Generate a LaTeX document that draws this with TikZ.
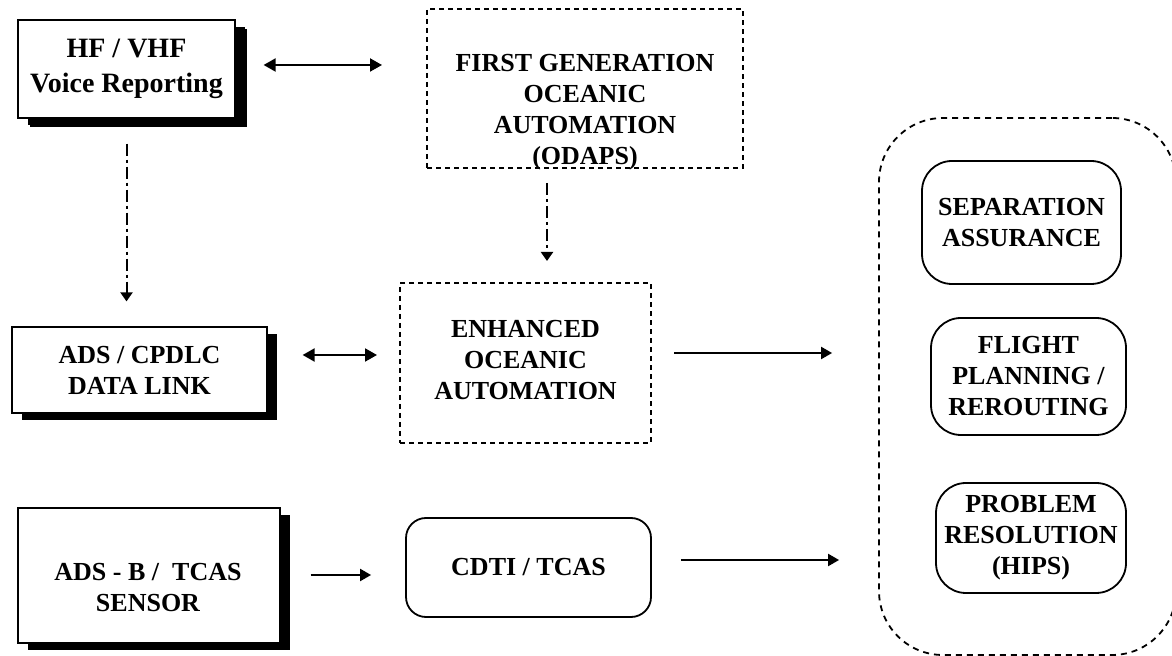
\documentclass[tikz,border=0pt]{standalone}
\usepackage{fontspec}
\setmainfont{Liberation Serif}
\usetikzlibrary{positioning,arrows.meta,shadows,calc}

\begin{document}
\begin{tikzpicture}[
    x=0.5pt, y=-0.5pt,
    txt/.style={font=\fontsize{13}{15.5}\selectfont\bfseries, align=center},
    bigtxt/.style={font=\fontsize{14}{17.5}\selectfont\bfseries, align=center},
    shadowbox/.style={rectangle, draw, line width=0.6pt, fill=white, txt, drop shadow={shadow xshift=5pt, shadow yshift=-3.5pt, fill=black, opacity=1}},
    dotbox/.style={rectangle, draw, line width=1pt, dash pattern=on 2.5pt off 2pt},
    roundbox/.style={rectangle, draw, rounded corners=15pt, line width=0.9pt, txt, inner sep=2pt},
    arrow/.style={-{Triangle[length=5.5pt,width=6pt]}, line width=1pt},
    dblarrow/.style={{Triangle[length=6pt,width=6.5pt]}-{Triangle[length=6pt,width=6.5pt]}, line width=1pt},
    dashdot/.style={-{Triangle[length=4.5pt,width=6pt]}, line width=1pt, dash pattern=on 6pt off 2pt on 1.5pt off 2pt}
]
\useasboundingbox (0,0) rectangle (1172,656);

% ===== SENSORS (left column) =====
\node[shadowbox, bigtxt, minimum width=108.5pt, minimum height=49pt, drop shadow={shadow xshift=6pt, shadow yshift=-4.5pt, fill=black, opacity=1}] (hf) at (126.5,69) {HF / VHF\\Voice Reporting};
\node[shadowbox, minimum width=127.5pt, minimum height=43pt] (ads) at (139.5,370) {ADS / CPDLC\\DATA LINK};
\node[shadowbox, minimum width=131pt, minimum height=67.5pt] (adsb) at (149,575.5) {};
\node[txt, inner sep=0pt] (adsbtext) at (148,588) {ADS - B /\ \ TCAS\\SENSOR};

% ===== AUTOMATION (middle column) =====
\node[dotbox, minimum width=158pt, minimum height=79.5pt] (first) at (585,88.5) {};
\node[txt, inner sep=0pt] (firsttext) at (585,112) {FIRST GENERATION\\OCEANIC\\AUTOMATION\\(ODAPS)};
\node[dotbox, txt, minimum width=125.5pt, minimum height=80pt, text depth=3pt] (enh) at (525.5,363) {ENHANCED\\OCEANIC\\AUTOMATION};
\node[roundbox, rounded corners=10pt, minimum width=122.5pt, minimum height=49.5pt] (cdti) at (528.5,567.5) {CDTI / TCAS};

% ===== FUNCTIONS (right group) =====
\node[draw, rounded corners=32pt, line width=0.9pt, dash pattern=on 3pt off 2.5pt, minimum width=148.5pt, minimum height=268.5pt] (cont) at (1027.5,386.5) {};
\node[roundbox, minimum width=99.5pt, minimum height=61.5pt] (sep) at (1021.5,222.5) {SEPARATION\\ASSURANCE};
\node[roundbox, minimum width=97.5pt, minimum height=58.5pt] (flight) at (1028.5,376.5) {FLIGHT\\PLANNING /\\REROUTING};
\node[roundbox, minimum width=95pt, minimum height=55pt] (prob) at (1031,538) {PROBLEM\\RESOLUTION\\(HIPS)};

% ===== ARROWS =====
\draw[dblarrow, shorten <=14pt, shorten >=22pt] ([yshift=2pt]hf.east) -- ([yshift=2pt]hf.east -| first.west);
\draw[dblarrow, shorten <=17.5pt, shorten >=11pt] ([yshift=7.5pt]ads.east) -- ([yshift=7.5pt]ads.east -| enh.west);
\draw[arrow, shorten <=11pt, shorten >=23pt] ([yshift=5pt]enh.east) -- ([yshift=5pt]enh.east -| cont.west);
\draw[arrow, shorten <=15pt, shorten >=17pt] ([yshift=0.25pt]adsb.east) -- ([yshift=0.25pt]adsb.east -| cdti.west);
\draw[arrow, shorten <=14.5pt, shorten >=19.5pt] ([yshift=3.75pt]cdti.east) -- ([yshift=3.75pt]cdti.east -| cont.west);

% ===== EVOLUTION (dash-dot) =====
\draw[dashdot, shorten <=12.5pt, shorten >=12.5pt] (hf.south) -- (hf.south |- ads.north);
\draw[dashdot, shorten <=7pt, shorten >=10.5pt] ([xshift=10.75pt]enh.north |- first.south) -- ([xshift=10.75pt]enh.north);

\end{tikzpicture}
\end{document}
